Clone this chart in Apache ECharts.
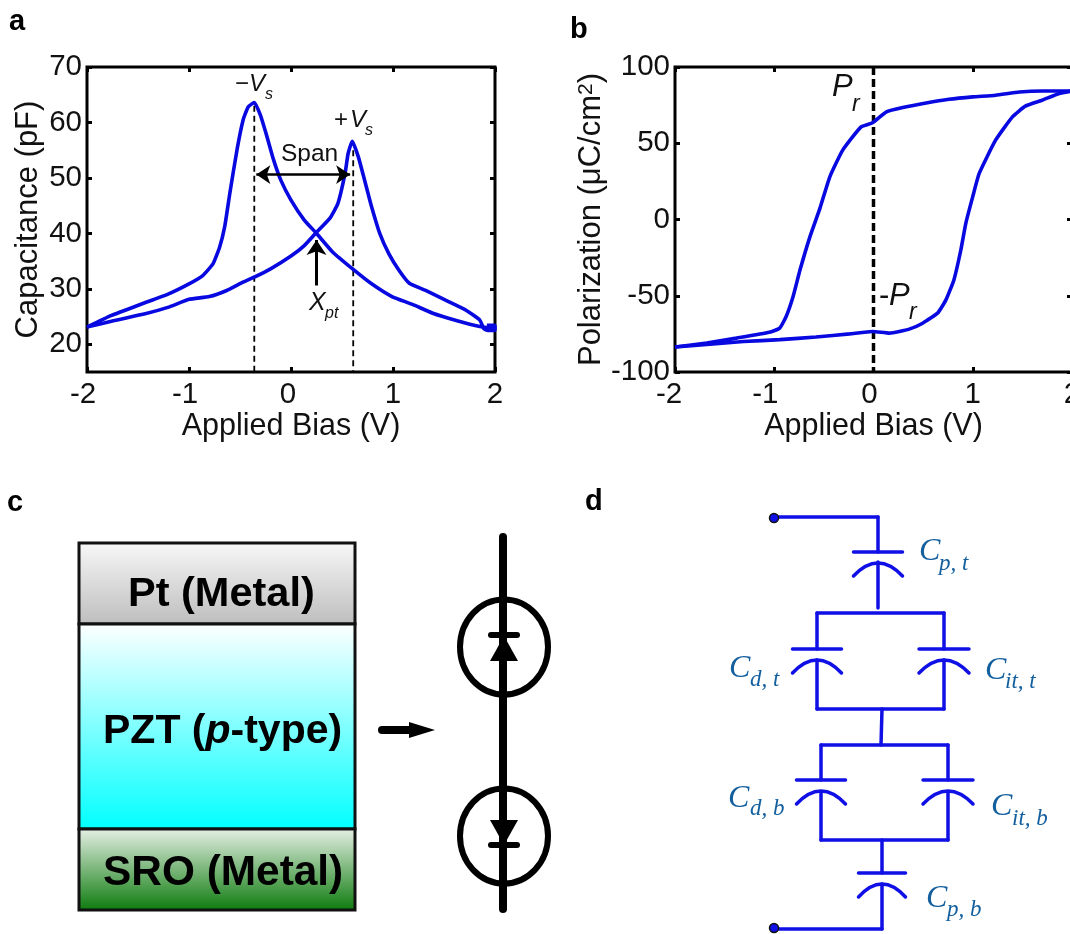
<!DOCTYPE html>
<html><head><meta charset="utf-8">
<style>html,body{margin:0;padding:0;background:#fff;overflow:hidden}#c{width:1070px;height:934px}</style>
<script src="https://cdn.jsdelivr.net/npm/echarts@6/dist/echarts.min.js"></script>
</head><body><div id="c"></div>
<script>
// Panel a: capacitance vs bias
const capLeftBias=[-2,-1.76,-1.46,-1.2,-1,-0.865,-0.765,-0.7,-0.65,-0.6,-0.53,-0.47,-0.42,-0.36,-0.3,-0.235,-0.17,-0.1,0,0.13,0.245,0.41,0.61,0.79,0.99,1.19,1.39,1.62,1.85,2];
const capLeftValues=[23.1,25.2,27.3,29.1,30.9,32.4,34.5,37.5,41.2,47.2,55,60.4,62.8,63.6,61.3,57.4,53.2,49.6,46,42.4,40.1,36.6,33.5,30.9,28.6,27.2,25.6,24.3,23.2,22.8];
const capRightBias=[-2,-1.73,-1.43,-1.2,-1,-0.8,-0.63,-0.47,-0.36,-0.2,0,0.13,0.245,0.38,0.46,0.53,0.56,0.6,0.66,0.73,0.79,0.87,0.96,1.06,1.16,1.32,1.52,1.72,1.85,1.89,1.93,2,2,1.92];
const capRightValues=[23.1,24.3,25.5,26.7,28.1,28.6,29.7,31.2,32.1,33.6,35.9,37.8,40.1,42.7,45.4,50.8,54.4,56.6,53.8,49,44.8,40,36.3,33.3,31,29.7,27.9,26.1,24.4,22.8,22.5,22.5,23.4,23.4];
const vsLeftBias=[-0.36,-0.36], vsLeftCap=[63,15];
const vsRightBias=[0.61,0.61], vsRightCap=[55,15];
const spanBias=[-0.34,0.58], spanCap=[50.6,50.6];
const xptBias=[0.25,0.25], xptCap=[30.6,38.8];
const xTicks=[-2,-1,0,1,2];
const capTicks=[20,30,40,50,60,70];
// Panel b: polarization vs bias
const polUpBias=[-2,-1.68,-1.38,-1.05,-0.945,-0.88,-0.81,-0.74,-0.64,-0.54,-0.44,-0.31,-0.125,-0.01,0.13,0.295,0.53,0.76,1,1.23,1.47,1.7,2];
const polUpValues=[-83.6,-81,-77.8,-74,-71.2,-63.6,-50.5,-33,-11.2,7.3,28,45.5,60.7,63.4,70.6,73.4,76.4,78.8,80.4,81.5,83.6,84.3,84.3];
const polDownBias=[-2,-1.68,-1.31,-0.945,-0.58,-0.24,-0.01,0.16,0.36,0.495,0.645,0.73,0.81,0.88,0.93,1,1.065,1.23,1.4,1.53,1.7,1.87,2];
const polDownValues=[-83.6,-82,-80,-78.8,-77,-75,-73.4,-74.5,-71.9,-68,-61.4,-52.7,-39.6,-20,-2.5,15,30.2,52,67.3,74.3,78.2,82.6,84.3];
const prBias=[0,0], prPol=[100,-100];
const polTicks=[-100,-50,0,50,100];

const zip=(a,b)=>a.map((v,i)=>[v,b[i]]);
const BLUE='#0808e0', FONT='"Liberation Sans",Arial,sans-serif', SERIF='"Liberation Serif",serif', NET='#0f0fe6', LBL='#14609f';
const curve=(g,x,y)=>({type:'line',xAxisIndex:g*2,yAxisIndex:g*2,data:zip(x,y),showSymbol:false,symbol:'none',smooth:0.15,silent:true,
  lineStyle:{color:BLUE,width:3.6},z:3});
const dash=(g,x,y,w,d)=>({type:'line',xAxisIndex:g*2,yAxisIndex:g*2,data:zip(x,y),showSymbol:false,symbol:'none',silent:true,
  lineStyle:{color:'#000',width:w,type:d},z:2});
const arrow=(g,x,y,sym,w,sz)=>({type:'line',xAxisIndex:g*2,yAxisIndex:g*2,data:[],silent:true,
  markLine:{silent:true,animation:false,symbol:sym,symbolSize:sz,label:{show:false},lineStyle:{color:'#000',width:w,type:'solid'},
    data:[[{coord:[x[0],y[0]]},{coord:[x[1],y[1]]}]]},z:4});
const tickFont={fontFamily:FONT,fontSize:29.5,color:'#111'};
const xAxes=(g,name,gap,shift)=>[
 {gridIndex:g,type:'value',min:-2,max:2,position:'bottom',name,nameLocation:'middle',nameGap:gap,
  nameTextStyle:{fontFamily:FONT,fontSize:30.5,color:'#111'},
  axisLine:{show:false,onZero:false},splitLine:{show:false},
  axisTick:{show:true,inside:true,length:5,customValues:xTicks,lineStyle:{color:'#000',width:3}},
  axisLabel:Object.assign({show:true,margin:8,customValues:xTicks,hideOverlap:false,showMinLabel:true,showMaxLabel:true,
    formatter:v=>shift[v]?`{s${shift[v]}|${v}}`:String(v),
    rich:Object.fromEntries(Object.values(shift).map(p=>['s'+p,Object.assign({padding:[0,p,0,0]},tickFont)]))},tickFont)},
 {gridIndex:g,type:'value',min:-2,max:2,position:'top',axisLine:{show:false,onZero:false},splitLine:{show:false},axisLabel:{show:false},
  axisTick:{show:true,inside:true,length:5,customValues:xTicks,lineStyle:{color:'#000',width:3}}}];
const yAxes=(g,min,max,ticks,name,gap,rich)=>[
 {gridIndex:g,type:'value',min,max,position:'left',name,nameLocation:'middle',nameGap:gap,
  nameTextStyle:Object.assign({fontFamily:FONT,fontSize:31,color:'#111'},rich?{rich}:{}),
  axisLine:{show:false,onZero:false},splitLine:{show:false},
  axisTick:{show:true,inside:true,length:5,customValues:ticks,lineStyle:{color:'#000',width:3}},
  axisLabel:Object.assign({show:true,margin:5,customValues:ticks,hideOverlap:false,showMinLabel:true,showMaxLabel:true},tickFont)},
 {gridIndex:g,type:'value',min,max,position:'right',axisLine:{show:false,onZero:false},splitLine:{show:false},axisLabel:{show:false},
  axisTick:{show:true,inside:true,length:5,customValues:ticks,lineStyle:{color:'#000',width:3}}}];

// ---- helper graphics ----
const g=[];
const txt=(x,base,text,size,o={})=>g.push({type:'text',x,y:base-0.35*size,silent:true,style:Object.assign({text,fontSize:size,fontFamily:FONT,fill:'#111',align:'left',verticalAlign:'middle'},o)});
const ln=(x1,y1,x2,y2,w,c,cap)=>g.push({type:'line',shape:{x1,y1,x2,y2},silent:true,style:{stroke:c,lineWidth:w,lineCap:cap||'butt'}});
const poly=(pts,c)=>g.push({type:'polygon',shape:{points:pts},silent:true,style:{fill:c}});

// panel letters
const pl=(x,b,t)=>txt(x,b,t,29,{fontWeight:'bold',fill:'#000'});
pl(9,32,'a');pl(570,40,'b');pl(7,513,'c');pl(585,512,'d');

// panel a annotations
const ital={fontStyle:'italic'};
txt(235,93,'\u2212',24);txt(249,93,'V',24,ital);txt(265,100,'s',16,ital);
txt(334,129,'+',24);txt(350,129,'V',24,ital);txt(365,136,'s',16,ital);
txt(281,163,'Span',24.5);
txt(309,312,'X',25,ital);txt(325,319,'pt',16,ital);
// panel b annotations
txt(832,98,'P',31,ital);txt(852,113,'r',23,ital);
txt(879,307,'-',31);txt(889,307,'P',31,ital);txt(909,321,'r',23,ital);

// panel c stack
const layer=(y,h,stops)=>g.push({type:'rect',shape:{x:79,y,width:276,height:h},silent:true,
  style:{stroke:'#111',lineWidth:3,fill:new echarts.graphic.LinearGradient(0,0,0,1,stops.map((c,i)=>({offset:i/(stops.length-1),color:c})))}});
layer(543,81,['#f8f8f8','#bdbdbd']);
layer(624,205,['#ffffff','#00ffff']);
layer(829,81,['#e8f1e8','#0b7a0b']);
const bold={fontWeight:'bold',fill:'#000'};
txt(128,609,'Pt (Metal)',41.5,bold);
g.push({type:'text',x:103,y:746-0.35*41,silent:true,style:{text:'{a|PZT (}{i|p}{a|-type)}',verticalAlign:'middle',align:'left',
  rich:{a:{fontFamily:FONT,fontSize:41,fontWeight:'bold',fill:'#000',color:'#000'},i:{fontFamily:FONT,fontSize:41,fontWeight:'bold',fontStyle:'italic',fill:'#000',color:'#000'}}}});
txt(103,888,'SRO (Metal)',42.4,bold);
// c arrow
ln(382,730,412,730,8,'#000','round');poly([[409,722],[435,730],[409,738]],'#000');
// diodes
ln(503,537,503,909,8,'#000','round');
const ring=cy=>g.push({type:'ellipse',shape:{cx:504,cy,rx:44,ry:47.5},silent:true,style:{stroke:'#000',lineWidth:6,fill:null}});
ring(647);ring(836);
ln(491,635,517,635,6,'#000','round');poly([[490,661],[518,661],[504,636]],'#000');
ln(491,845,517,845,6,'#000','round');poly([[490,820],[518,820],[504,845]],'#000');

// panel d network
const W=3.5;
const w=(x1,y1,x2,y2)=>ln(x1,y1,x2,y2,W,NET,'round');
const cap=(x,y,hw)=>{ln(x-hw,y,x+hw,y,W,NET,'round');
  g.push({type:'bezierCurve',shape:{x1:x-hw,y1:y+24,x2:x+hw,y2:y+24,cpx1:x,cpy1:y-2},silent:true,style:{stroke:NET,lineWidth:W,fill:null,lineCap:'round'}});};
const dot=(x,y)=>g.push({type:'circle',shape:{cx:x,cy:y,r:4.5},silent:true,style:{fill:NET,stroke:'#111',lineWidth:1.5}});
w(774,517,878,517);w(878,517,878,552);cap(878,552,24.5);w(878,562,878,608);
w(817,613,944,613);w(817,613,817,649);w(944,613,944,649);cap(817,649,24.5);cap(944,649,25);w(817,660,817,709);w(944,660,944,709);
w(817,709,944,709);w(882,709,881,745);
w(821,745,948,745);w(821,745,821,780);w(948,745,948,780);cap(821,780,24.5);cap(948,780,25);w(821,792,821,840);w(948,792,948,840);
w(821,840,948,840);w(882,840,882,873);cap(882,873,23.5);w(882,884,882,929);w(774,929,882,929);
dot(774,518);dot(774,928);
const clbl=(x,b,sx,sb,s)=>{txt(x,b,'C',32,{fontFamily:SERIF,fontStyle:'italic',fill:LBL});txt(sx,sb,s,23,{fontFamily:SERIF,fontStyle:'italic',fill:LBL});};
clbl(919,563,939,572,'p, t');
clbl(729,680,750,688,'d, t');
clbl(985,682,1005,690,'it, t');
clbl(728,810,750,817,'d, b');
clbl(991,818,1012,827,'it, b');
clbl(926,910,947,918,'p, b');

const chart=echarts.init(document.getElementById('c'),null,{renderer:'canvas'});
chart.setOption({
 animation:false,backgroundColor:'#fff',
 grid:[
  {left:87,top:67,width:408,height:305,show:true,borderColor:'#000',borderWidth:3,backgroundColor:'transparent',outerBoundsMode:'none'},
  {left:675,top:67,width:397,height:305,show:true,borderColor:'#000',borderWidth:3,backgroundColor:'transparent',outerBoundsMode:'none'}],
 xAxis:[...xAxes(0,'Applied Bias (V)',37,{'-2':8,'-1':8,'0':6}),...xAxes(1,'Applied Bias (V)',37,{'-2':12,'-1':18,'0':8})],
 yAxis:[...yAxes(0,15,70,capTicks,'Capacitance (pF)',43),
        ...yAxes(1,-100,100,polTicks,'{a|Polarization (\u03bcC/cm}{s|2}{a|)}',64,{a:{fontFamily:FONT,fontSize:31,color:'#111'},s:{fontFamily:FONT,fontSize:21,color:'#111',verticalAlign:'top'}})],
 series:[
  dash(0,vsLeftBias,vsLeftCap,1.8,[6,4]),dash(0,vsRightBias,vsRightCap,1.8,[6,4]),
  curve(0,capLeftBias,capLeftValues),curve(0,capRightBias,capRightValues),
  arrow(0,spanBias,spanCap,['arrow','arrow'],2.5,[14,14]),
  arrow(0,xptBias,xptCap,['none','arrow'],3,[15,15]),
  dash(1,prBias,prPol,3.5,[8,4]),
  curve(1,polUpBias,polUpValues),curve(1,polDownBias,polDownValues)],
 graphic:{elements:g}
});
</script></body></html>
